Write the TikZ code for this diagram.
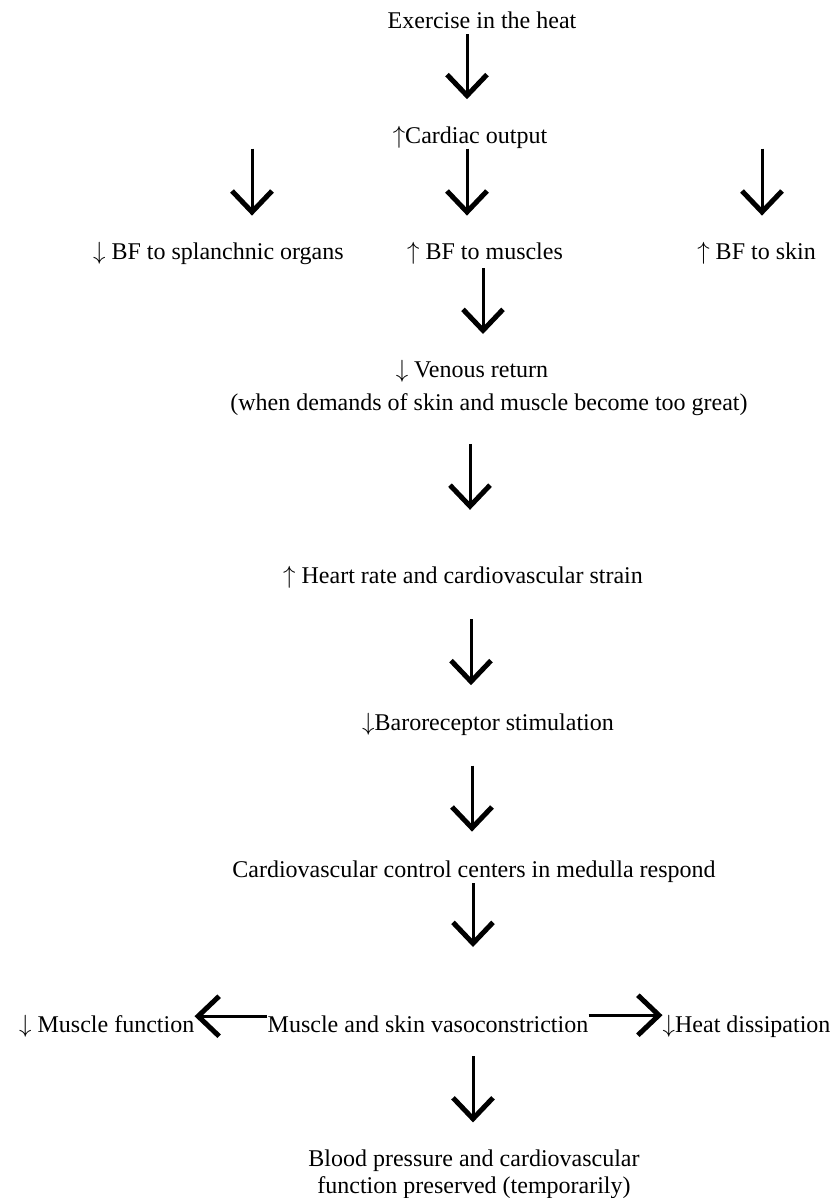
\documentclass[tikz,border=0pt]{standalone}
\usepackage{fontspec}
\setmainfont{Liberation Serif}
\usetikzlibrary{arrows.meta,positioning}
\newcommand{\upar}{$\uparrow$}
\newcommand{\dnar}{$\downarrow$}
\tikzstyle{stage}=[inner sep=0pt,text height=17pt,text depth=5pt,
font=\fontsize{24}{28}\selectfont]
\tikzstyle{endstage}=[inner sep=0pt,align=center,
font=\fontsize{24}{27}\selectfont]
\tikzstyle{flow}=[line width=3pt,-{Straight Barb[length=21pt,width=40pt,line width=5pt]}]

\begin{document}
\begin{tikzpicture}[x=1pt,y=-1pt,node distance=92pt]
            \useasboundingbox (0,0) rectangle (838,1198);

            % TOP PART

            \node[stage] (heat) at (482,23) {Exercise in the heat};
            \node[stage,below=92pt of heat,xshift=-12pt] (co) {\upar Cardiac output};
            \node[stage,below=94pt of co,xshift=15pt] (mus) {\upar\ BF to muscles};
            \node[stage,left=63pt of mus] (spl) {\dnar\ BF to splanchnic organs};
            \node[stage,right=134pt of mus] (skin) {\upar\ BF to skin};

            \path[flow] (heat.south -| 467,0) edge[shorten >=27pt] (co.north -| 467,0);
            \path[flow] (co.south -| 467,0) edge[shorten >=27pt] (mus.north -| 467,0);
            \path[flow] (co.south -| 252,0) edge[shorten >=27pt] (spl.north -| 252,0);
            \path[flow] (co.south -| 762,0) edge[shorten >=27pt] (skin.north -| 762,0);

            % MIDDLE PART

            \node[stage,below=95pt of mus,xshift=-13pt] (ven) {\dnar\ Venous return};
            \node[stage,below=11pt of ven,xshift=17pt] (vennote) {(when demands of skin and muscle become too great)};
            \node[stage,below=150pt of vennote,xshift=-26pt] (hr) {\upar\ Heart rate and cardiovascular strain};
            \node[stage,below=125pt of hr,xshift=25pt] (baro) {\dnar Baroreceptor stimulation};
            \node[stage,below=125pt of baro,xshift=-14pt] (cvc) {Cardiovascular control centers in medulla respond};

            \path[flow] (mus.south -| 483,0) edge[shorten <=3pt,shorten >=26pt] (ven.north -| 483,0);
            \path[flow] (vennote.south -| 470,0) edge[shorten <=28pt,shorten >=56pt] (hr.north -| 470,0);
            \path[flow] (hr.south -| 471,0) edge[shorten <=31pt,shorten >=28pt] (baro.north -| 471,0);
            \path[flow] (baro.south -| 472,0) edge[shorten <=30pt,shorten >=29pt] (cvc.north -| 472,0);

            % BOTTOM PART

            \node[stage,below=132pt of cvc,xshift=-46pt] (msv) {Muscle and skin vasoconstriction};
            \node[stage,left=73pt of msv] (mf) {\dnar\ Muscle function};
            \node[stage,right=74pt of msv] (hd) {\dnar Heat dissipation};
            \node[endstage,below=112pt of msv,xshift=46pt] (bp) {Blood pressure and cardiovascular\\function preserved (temporarily)};

            \path[flow] (cvc.south -| 473,0) edge[shorten >=68pt] (msv.north -| 473,0);
            \path[flow] ([yshift=10pt]msv.west) edge ([yshift=10pt]mf.east);
            \path[flow] ([yshift=11pt]msv.east) edge ([yshift=11pt]hd.west);
            \path[flow] (msv.south -| 473,0) edge[shorten <=19pt,shorten >=27pt] (bp.north -| 473,0);

        \end{tikzpicture}
\end{document}
